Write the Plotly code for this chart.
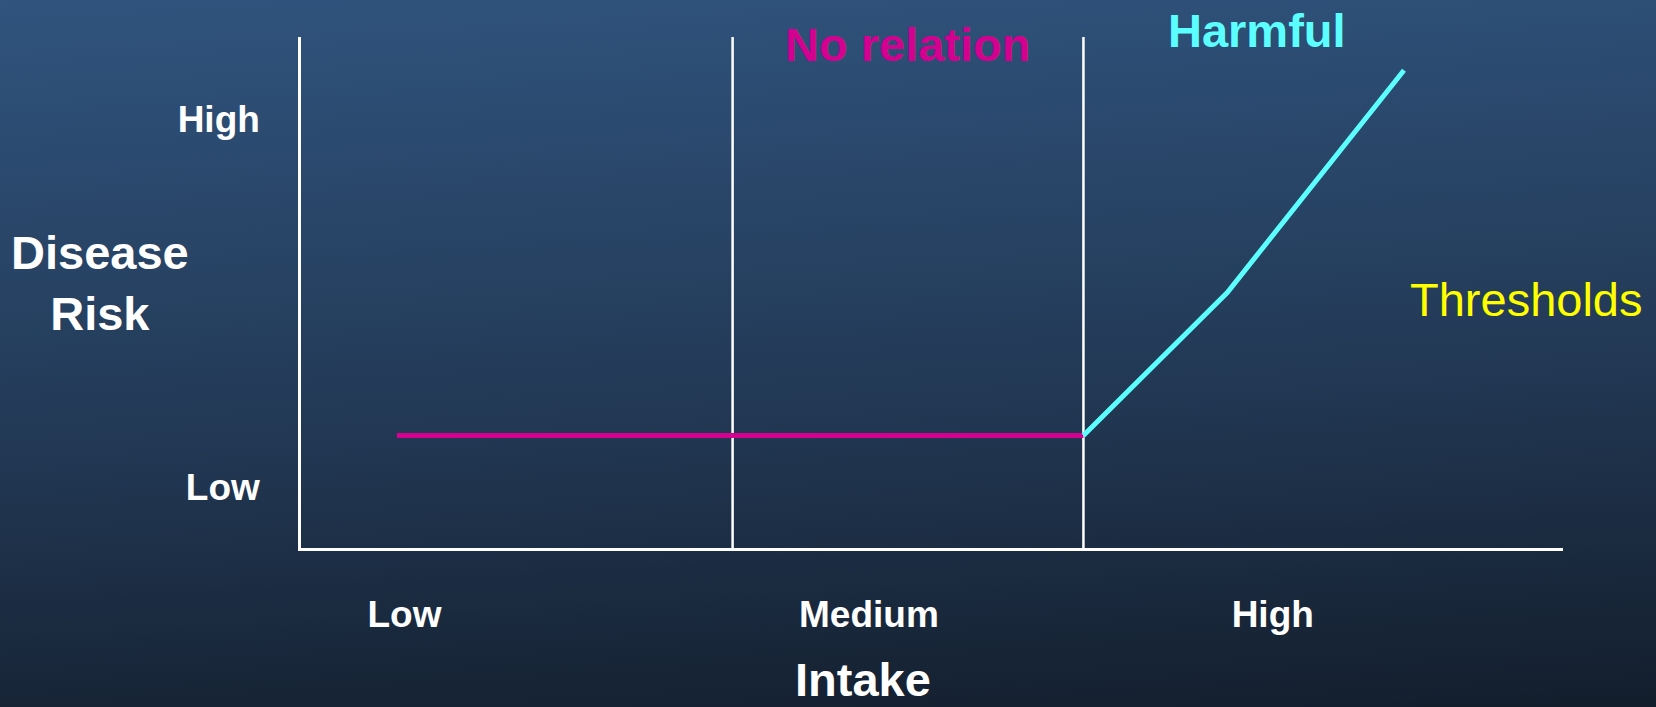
import base64
import plotly.graph_objects as go

# Intake scale runs 0-100, disease-risk scale runs 0-10
intake_ticks = [8.2, 45.0, 77.0]
intake_labels = ["Low", "Medium", "High"]
risk_ticks = [1.2, 8.4]
risk_labels = ["Low", "High"]

# Intake levels at which the risk relationship changes
thresholds = [34.2, 62.0]

# Flat segment: no relation between intake and risk
flat_x = [7.6, 62.0]
flat_y = [2.2, 2.2]

# Rising segment: harmful above the upper threshold
harm_x = [62.0, 73.4, 87.4]
harm_y = [2.2, 5.0, 9.35]

W, H = 1656, 707
FONT = "Liberation Sans, Arial, sans-serif"
WHITE = "#ffffff"
MAGENTA = "#D4008F"
CYAN = "#5CFFFF"
YELLOW = "#FFFF00"

# Slide-style dark blue gradient used as the page background
svg = f"""<svg xmlns='http://www.w3.org/2000/svg' width='{W}' height='{H}' viewBox='0 0 {W} {H}' preserveAspectRatio='none'>
<defs><linearGradient id='g' gradientUnits='userSpaceOnUse' x1='0' y1='0' x2='53' y2='940'>
<stop offset='0' stop-color='#30547e'/>
<stop offset='0.45' stop-color='#233a57'/>
<stop offset='1' stop-color='#0d131c'/>
</linearGradient></defs>
<rect width='{W}' height='{H}' fill='url(#g)'/></svg>"""
bg_src = "data:image/svg+xml;base64," + base64.b64encode(svg.encode()).decode()

fig = go.Figure()

for t in thresholds:
    fig.add_trace(go.Scatter(
        x=[t, t], y=[0, 10], mode="lines",
        line=dict(color=WHITE, width=2.5),
        hoverinfo="skip", showlegend=False, cliponaxis=False,
    ))

fig.add_trace(go.Scatter(
    x=flat_x, y=flat_y, mode="lines",
    line=dict(color=MAGENTA, width=5),
    name="No relation", showlegend=False, cliponaxis=False,
))
fig.add_trace(go.Scatter(
    x=harm_x, y=harm_y, mode="lines",
    line=dict(color=CYAN, width=5),
    name="Harmful", showlegend=False, cliponaxis=False,
))

axis_font = dict(family=FONT, size=37, color=WHITE, weight="bold")

fig.update_layout(
    width=W, height=H,
    margin=dict(l=0, r=0, t=0, b=0),
    paper_bgcolor="#1f3350",
    plot_bgcolor="rgba(0,0,0,0)",
    images=[dict(
        source=bg_src, xref="paper", yref="paper",
        x=0, y=1, sizex=1, sizey=1, xanchor="left", yanchor="top",
        sizing="stretch", layer="below",
    )],
    xaxis=dict(
        domain=[301 / W, 1563 / W], range=[0, 100],
        showline=True, linecolor=WHITE, linewidth=2.5,
        showgrid=False, zeroline=False,
        tickmode="array", tickvals=intake_ticks, ticktext=intake_labels,
        tickfont=axis_font, ticks="", ticklabelstandoff=32,
        fixedrange=True,
    ),
    yaxis=dict(
        domain=[(H - 548) / H, (H - 37) / H], range=[0, 10],
        showline=True, linecolor=WHITE, linewidth=2.5,
        showgrid=False, zeroline=False,
        tickmode="array", tickvals=risk_ticks, ticktext=risk_labels,
        tickfont=axis_font, ticks="", ticklabelstandoff=31,
        fixedrange=True,
    ),
    annotations=[
        dict(text="Disease<br>Risk", x=100 / W, y=1 - 282.5 / H,
             xref="paper", yref="paper", showarrow=False,
             xanchor="center", yanchor="middle", align="center",
             font=dict(family=FONT, size=47, color=WHITE, weight="bold")),
        dict(text="Intake", x=863 / W, y=0,
             xref="paper", yref="paper", showarrow=False,
             xanchor="center", yanchor="bottom", borderpad=0,
             font=dict(family=FONT, size=47, color=WHITE, weight="bold")),
        dict(text="No relation", x=907 / W, y=1 - 44 / H,
             xref="paper", yref="paper", showarrow=False,
             xanchor="center", yanchor="middle",
             font=dict(family=FONT, size=47, color=MAGENTA, weight="bold")),
        dict(text="Harmful", x=1257 / W, y=1 - 30 / H,
             xref="paper", yref="paper", showarrow=False,
             xanchor="center", yanchor="middle",
             font=dict(family=FONT, size=47, color=CYAN, weight="bold")),
        dict(text="Thresholds", x=1408 / W, y=1 - 299 / H,
             xref="paper", yref="paper", showarrow=False,
             xanchor="left", yanchor="middle",
             font=dict(family=FONT, size=47, color=YELLOW)),
    ],
)

fig.write_html("out.html")
